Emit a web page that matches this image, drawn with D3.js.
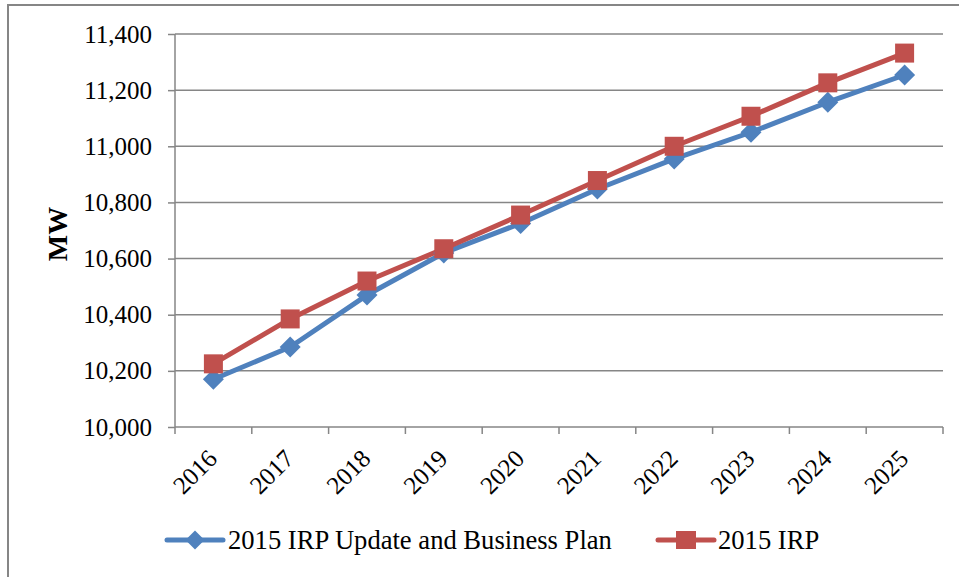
<!DOCTYPE html>
<html><head><meta charset="utf-8">
<script src="https://cdn.jsdelivr.net/npm/d3@7"></script>
<style>body{margin:0;background:#fff}svg{display:block}text{font-family:"Liberation Serif","Times New Roman",serif;fill:#000}</style>
</head><body><svg id="c" width="959" height="577"></svg>
<script>
const years = ["2016","2017","2018","2019","2020","2021","2022","2023","2024","2025"];
const updatePlan = [10170, 10285, 10470, 10620, 10725, 10848, 10955, 11050, 11157, 11254];
const irp2015 = [10225, 10385, 10520, 10635, 10755, 10878, 11000, 11107, 11226, 11332];
const yTicks = [10000, 10200, 10400, 10600, 10800, 11000, 11200, 11400];
const seriesNames = ["2015 IRP Update and Business Plan", "2015 IRP"];
const colors = ["#4F81BD", "#C0504D"];

const svg = d3.select("#c");
svg.append("rect").attr("x",8).attr("y",5).attr("width",1000).attr("height",600)
  .attr("fill","none").attr("stroke","#868686").attr("stroke-width",2);

const L=175, R=943, T=34, B=427;
const x = d3.scaleBand().domain(years).range([L,R]);
const y = d3.scaleLinear().domain([10000,11400]).range([B,T]);

// gridlines
svg.append("g").selectAll("line").data(yTicks.filter(d=>d>10000)).join("line")
  .attr("x1",L).attr("x2",R).attr("y1",d=>y(d)).attr("y2",d=>y(d))
  .attr("stroke","#868686").attr("stroke-width",1.5);

// y axis
const ya = svg.append("g").attr("transform",`translate(${L},0)`)
  .call(d3.axisLeft(y).tickValues(yTicks).tickFormat(d3.format(",")).tickSize(7).tickPadding(16));
ya.attr("font-family",null).attr("font-size",null);
ya.select(".domain").attr("stroke","#868686").attr("stroke-width",1.5).attr("d",`M0,${T}V${B}`);
ya.selectAll(".tick line").attr("stroke","#868686").attr("stroke-width",1.5);
ya.selectAll(".tick text").style("font-size","25px");

// x axis
const xa = svg.append("g").attr("transform",`translate(0,${B})`);
xa.append("line").attr("x1",L).attr("x2",R).attr("y1",0).attr("y2",0).attr("stroke","#868686").attr("stroke-width",1.5);
const bounds = years.map(d=>x(d)).concat([R]);
xa.selectAll("line.t").data(bounds).join("line").attr("class","t")
  .attr("x1",d=>d).attr("x2",d=>d).attr("y1",0).attr("y2",7).attr("stroke","#868686").attr("stroke-width",1.5);
xa.selectAll("text").data(years).join("text")
  .attr("transform",d=>`translate(${x(d)+x.bandwidth()/2-1},${27}) rotate(-45)`)
  .attr("text-anchor","end").attr("dy","0.35em").style("font-size","25px").text(d=>d);

// y label
svg.append("text").attr("transform","translate(57,234) rotate(-90)").attr("text-anchor","middle")
  .attr("dy","0.35em").style("font-size","28px").style("font-weight","bold").text("MW");

const cx = d=>x(d)+x.bandwidth()/2;
const line = d3.line().x((d,i)=>cx(years[i])).y(d=>y(d));
const dia = r => `M0,${-r}L${r},0L0,${r}L${-r},0Z`;

[updatePlan, irp2015].forEach((vals,k)=>{
  svg.append("path").datum(vals).attr("d",line).attr("fill","none")
    .attr("stroke",colors[k]).attr("stroke-width",5).attr("stroke-linejoin","round");
});
svg.append("g").selectAll("path").data(updatePlan).join("path")
  .attr("transform",(d,i)=>`translate(${cx(years[i])},${y(d)})`).attr("d",dia(10.5)).attr("fill",colors[0]);
svg.append("g").selectAll("rect").data(irp2015).join("rect")
  .attr("x",(d,i)=>cx(years[i])-9.5).attr("y",d=>y(d)-9.5).attr("width",19).attr("height",19).attr("fill",colors[1]);

// legend
const ly=540;
const leg = [{x0:167,tx:228},{x0:658,tx:718}];
leg.forEach((l,k)=>{
  const g=svg.append("g");
  g.append("line").attr("x1",l.x0).attr("x2",l.x0+56).attr("y1",ly).attr("y2",ly)
    .attr("stroke",colors[k]).attr("stroke-width",5).attr("stroke-linecap","round");
  if(k===0) g.append("path").attr("transform",`translate(${l.x0+28},${ly})`).attr("d",dia(9.5)).attr("fill",colors[0]);
  else g.append("rect").attr("x",l.x0+18).attr("y",ly-9).attr("width",20).attr("height",18).attr("fill",colors[1]);
  g.append("text").attr("x",l.tx).attr("y",ly).attr("dy","0.35em").style("font-size","26.6px").text(seriesNames[k]);
});
</script></body></html>
